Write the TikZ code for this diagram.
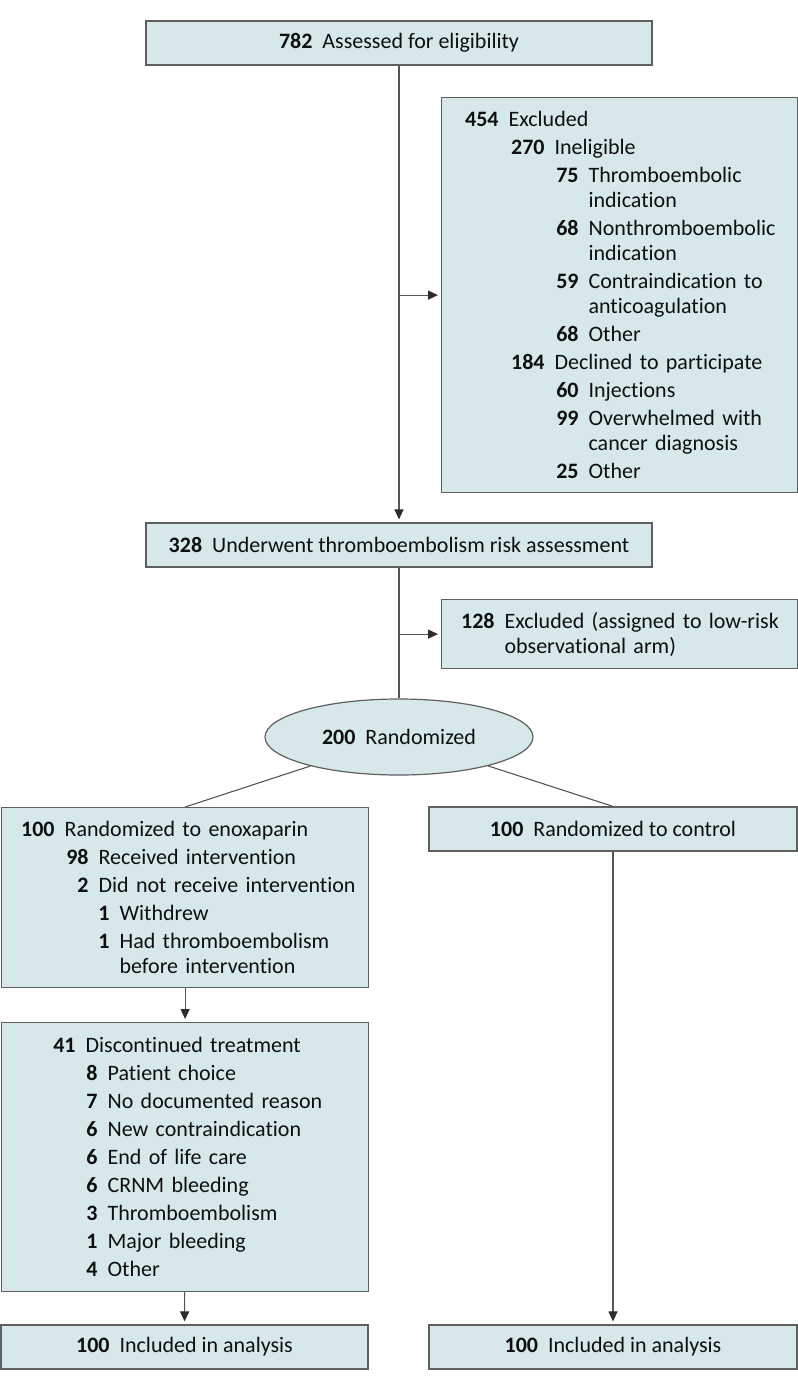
\documentclass[tikz,border=0pt]{standalone}
\usepackage{fontspec}
\setmainfont[Ligatures=NoCommon]{Carlito}
\usetikzlibrary{arrows.meta,shapes.geometric}
\definecolor{boxfill}{RGB}{214,232,234}
\definecolor{boxline}{RGB}{95,95,95}
\definecolor{connc}{RGB}{85,85,85}
\definecolor{tipc}{RGB}{45,45,45}
\definecolor{txt}{RGB}{15,15,15}
\newcommand{\nr}[4]{\hspace*{#1pt}\makebox[#2pt][r]{\bfseries #3}\hspace{10pt}#4}
\newcommand{\ct}[2]{\hspace*{#1pt}#2}
\begin{document}
\begin{tikzpicture}[x=1pt,y=-1pt,
  box/.style={draw=boxline,line width=1.2pt,fill=boxfill,rectangle,inner sep=0pt,text=txt,font=\fontsize{22}{28}\selectfont},
  cbox/.style={box,align=center},
  lbox/.style={box,align=left,anchor=north west},
  link/.style={draw=connc,line width=1.1pt},
  arr/.style={link,-{Triangle[length=10pt,width=9pt,color=tipc]},shorten >=3pt}]
\useasboundingbox (0,0) rectangle (798,1390);

\node[cbox,minimum width=506pt,minimum height=44pt] (top) at (399,43) {\textbf{782}\hspace{10pt}Assessed for eligibility};

\node[lbox,text width=356pt,minimum height=395pt] (excl) at (441,97) {%
\nr{21}{36}{454}{Excluded}\\
\nr{67}{36}{270}{Ineligible}\\
\nr{113}{24}{75}{Thromboembolic}\\[-3pt]
\ct{147}{indication}\\
\nr{113}{24}{68}{Nonthromboembolic}\\[-3pt]
\ct{147}{indication}\\
\nr{113}{24}{59}{Contraindication to}\\[-3pt]
\ct{147}{anticoagulation}\\
\nr{113}{24}{68}{Other}\\
\nr{67}{36}{184}{Declined to participate}\\
\nr{113}{24}{60}{Injections}\\
\nr{113}{24}{99}{Overwhelmed with}\\[-3pt]
\ct{147}{cancer diagnosis}\\
\nr{113}{24}{25}{Other}};

\node[cbox,minimum width=506pt,minimum height=44pt] (risk) at (399,545) {\textbf{328}\hspace{10pt}Underwent thromboembolism risk assessment};

\node[lbox,text width=356pt,minimum height=69pt] (low) at (441,599) {%
\nr{17}{36}{128}{Excluded (assigned to low-risk}\\[-3pt]
\ct{63}{observational arm)}};

\node[box,ellipse,minimum width=268pt,minimum height=76pt] (rand) at (399,737) {\textbf{200}\hspace{10pt}Randomized};

\node[lbox,text width=367pt,minimum height=180pt] (enox) at (1,807) {%
\nr{17}{36}{100}{Randomized to enoxaparin}\\
\nr{63}{24}{98}{Received intervention}\\
\nr{63}{24}{2}{Did not receive intervention}\\
\nr{97}{11}{1}{Withdrew}\\
\nr{97}{11}{1}{Had thromboembolism}\\[-3pt]
\ct{118}{before intervention}};

\node[cbox,minimum width=368pt,minimum height=44pt] (ctrl) at (613,829) {\textbf{100}\hspace{10pt}Randomized to control};

\node[lbox,text width=367pt,minimum height=269pt] (disc) at (1,1022) {%
\nr{50}{24}{41}{Discontinued treatment}\\
\nr{86}{10}{8}{Patient choice}\\
\nr{86}{10}{7}{No documented reason}\\
\nr{86}{10}{6}{New contraindication}\\
\nr{86}{10}{6}{End of life care}\\
\nr{86}{10}{6}{CRNM bleeding}\\
\nr{86}{10}{3}{Thromboembolism}\\
\nr{86}{10}{1}{Major bleeding}\\
\nr{86}{10}{4}{Other}};

\node[cbox,minimum width=367pt,minimum height=44pt] (inc1) at (184.5,1347) {\textbf{100}\hspace{10pt}Included in analysis};
\node[cbox,minimum width=368pt,minimum height=44pt] (inc2) at (613,1347) {\textbf{100}\hspace{10pt}Included in analysis};

\draw[arr] (top) -- (risk);
\coordinate (j1) at (top.south |- excl.west);
\draw[arr] (j1) -- (excl.west);
\draw[link] (risk) -- (rand);
\coordinate (j2) at (risk.south |- low.west);
\draw[arr] (j2) -- (low.west);
\draw[link] (rand) -- (enox.north);
\draw[link] (rand) -- (ctrl.north);
\draw[arr] (enox) -- (disc);
\draw[arr] (disc) -- (inc1);
\draw[arr] (ctrl) -- (inc2);
\end{tikzpicture}
\end{document}
